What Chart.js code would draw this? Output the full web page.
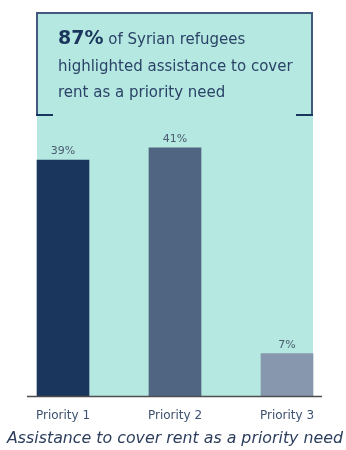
<!DOCTYPE html>
<html>
<head>
<meta charset="utf-8">
<script src="https://cdn.jsdelivr.net/npm/chart.js@4"></script>
<style>
  html, body { margin: 0; padding: 0; background: #fff; }
  #wrap { position: relative; width: 346px; height: 450px; }
  #myChart { display: block; }
  #callout {
    position: absolute; left: 36px; top: 12px; width: 273px; height: 102px;
    border: 2px solid #41597c; border-bottom: none;
    font-family: "DejaVu Sans", sans-serif; color: #2b4368;
    font-size: 15px; line-height: 26.5px;
  }
  #callout b { font-size: 19px; color: #1b365d; font-weight: bold; }
  #callout .cl, #callout .cr {
    position: absolute; bottom: 0; width: 17px; height: 2px; background: #1b365d;
  }
  #callout .cl { left: -2px; }
  #callout .cr { right: -2px; }
  #txt { position: absolute; left: 20px; top: 10px; white-space: nowrap; }
</style>
</head>
<body>
<div id="wrap">
  <canvas id="myChart" width="346" height="450"></canvas>
  <div id="callout">
    <div id="txt"><b>87%</b> of Syrian refugees<br>highlighted assistance to cover<br>rent as a priority need</div>
    <div class="cl"></div><div class="cr"></div>
  </div>
</div>
<script>
const categories = ["Priority 1", "Priority 2", "Priority 3"];
const values = [39, 41, 7];
const barColors = ["#1b365d", "#506582", "#8797ad"];
const chartTitle = "Assistance to cover rent as a priority need";

// teal panel behind the bars, axis line and value labels
const decorations = {
  id: "decorations",
  beforeDatasetsDraw(chart) {
    const ctx = chart.ctx;
    const bars = chart.getDatasetMeta(0).data;
    const first = bars[0];
    const last = bars[bars.length - 1];
    const left = first.x - first.width / 2;
    const right = last.x + last.width / 2;
    ctx.save();
    ctx.fillStyle = "#b5e8e0";
    ctx.fillRect(left, 13, right - left, chart.chartArea.bottom - 13);
    ctx.restore();
  },
  afterDatasetsDraw(chart) {
    const ctx = chart.ctx;
    const bars = chart.getDatasetMeta(0).data;
    const first = bars[0];
    const last = bars[bars.length - 1];
    const base = chart.chartArea.bottom;
    ctx.save();
    ctx.strokeStyle = "#4d4d4d";
    ctx.lineWidth = 1.5;
    ctx.beginPath();
    ctx.moveTo(first.x - first.width / 2 - 10, base + 0.5);
    ctx.lineTo(last.x + last.width / 2 + 9, base + 0.5);
    ctx.stroke();

    ctx.fillStyle = "#4a5b70";
    ctx.font = "11px 'DejaVu Sans'";
    ctx.textAlign = "center";
    ctx.textBaseline = "bottom";
    bars.forEach((bar, i) => {
      ctx.fillText(values[i] + "%", bar.x, bar.y - 3);
    });
    ctx.restore();
  }
};

new Chart(document.getElementById("myChart"), {
  type: "bar",
  data: {
    labels: categories,
    datasets: [
      {
        data: values,
        backgroundColor: barColors,
        barThickness: 52,
      },
    ],
  },
  options: {
    responsive: false,
    animation: false,
    layout: { padding: { top: 33, left: 7, right: 3, bottom: 0 } },
    scales: {
      x: {
        grid: { display: false, drawTicks: false, tickLength: 0 },
        border: { display: false },
        ticks: {
          color: "#3d5170",
          font: { family: "'DejaVu Sans'", size: 12 },
          padding: 13,
        },
      },
      y: {
        display: false,
        min: 0,
        max: 60,
      },
    },
    plugins: {
      legend: { display: false },
      tooltip: { enabled: false },
      title: {
        display: true,
        position: "bottom",
        text: chartTitle,
        color: "#2c3e5c",
        font: { family: "'DejaVu Sans'", size: 16, style: "italic", weight: "normal" },
        padding: { top: -7, bottom: 1.4 },
      },
    },
  },
  plugins: [decorations],
});
</script>
</body>
</html>
